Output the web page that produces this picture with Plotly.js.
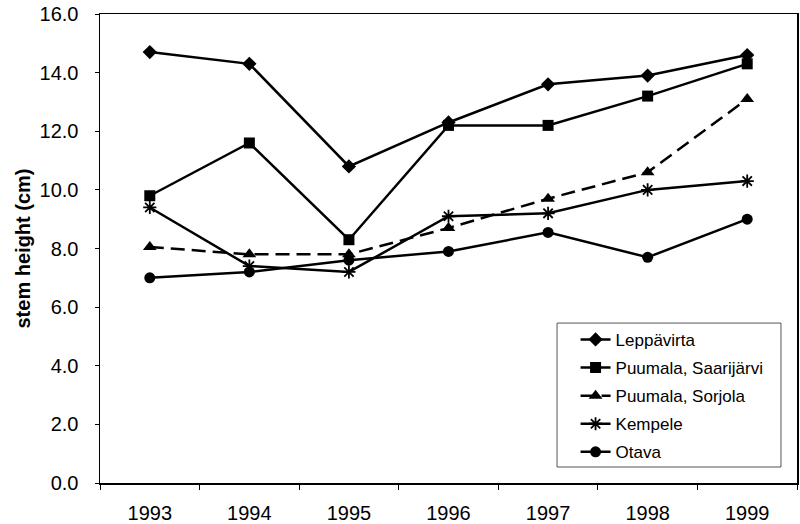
<!DOCTYPE html>
<html>
<head>
<meta charset="utf-8">
<script src="https://cdn.plot.ly/plotly-3.0.1.min.js"></script>
<style>html,body{margin:0;padding:0;background:#fff;}#chart{width:800px;height:524px;}</style>
</head>
<body>
<div id="chart"></div>
<script>
var years = ["1993", "1994", "1995", "1996", "1997", "1998", "1999"];
var leppavirta = [14.7, 14.3, 10.8, 12.3, 13.6, 13.9, 14.6];
var saarijarvi = [9.8, 11.6, 8.3, 12.2, 12.2, 13.2, 14.3];
var sorjola = [8.05, 7.8, 7.8, 8.7, 9.7, 10.6, 13.1];
var kempele = [9.4, 7.4, 7.2, 9.1, 9.2, 10.0, 10.3];
var otava = [7.0, 7.2, 7.6, 7.9, 8.55, 7.7, 9.0];
var seriesNames = ["Leppävirta", "Puumala, Saarijärvi", "Puumala, Sorjola", "Kempele", "Otava"];

function tr(name, y, symbol, size, dash) {
  return {
    x: years, y: y, name: name, type: "scatter", mode: "lines+markers",
    legendgroup: name,
    line: {color: "#000", width: 2.5, dash: dash || "solid"},
    marker: {symbol: symbol, size: size, color: "#000", line: {color: "#000", width: symbol.indexOf("open") >= 0 ? 1.8 : 0}}
  };
}
var data = [
  tr(seriesNames[0], leppavirta, "diamond", 11),
  tr(seriesNames[1], saarijarvi, "square", 11),
  tr(seriesNames[2], sorjola, "triangle-up", 12, "14px,7px"),
  tr(seriesNames[3], kempele, "asterisk-open", 11),
  tr(seriesNames[4], otava, "circle", 11)
];
var layout = {
  width: 800, height: 524,
  margin: {l: 100, r: 3, t: 14, b: 41},
  paper_bgcolor: "#fff", plot_bgcolor: "#fff",
  font: {family: "Liberation Sans, Arial, sans-serif", color: "#000", size: 20},
  showlegend: true,
  xaxis: {
    type: "category", range: [-0.5, 6.5],
    showline: true, linecolor: "#000", linewidth: 1.5, mirror: true,
    ticks: "outside", tickson: "boundaries", ticklen: 5, tickcolor: "#000",
    showgrid: false, zeroline: false,
    tickfont: {size: 20}, ticklabelstandoff: 11
  },
  yaxis: {
    range: [0, 16], dtick: 2, tick0: 0, tickformat: ".1f",
    showline: true, linecolor: "#000", linewidth: 1.5, mirror: true,
    ticks: "outside", ticklen: 4, tickcolor: "#000",
    showgrid: false, zeroline: false,
    tickfont: {size: 20}, ticklabelstandoff: 12,
    title: {text: "<b>stem height (cm)</b>", font: {size: 20}, standoff: 3}
  },
  shapes: [{
    type: "rect", xref: "paper", yref: "paper",
    x0: 0.6557, x1: 0.977, y0: 0.0341, y1: 0.341,
    line: {color: "#555", width: 1}, fillcolor: "rgba(0,0,0,0)"
  }],
  legend: {
    x: 0.6823, y: 0.3435, xanchor: "left", yanchor: "top",
    traceorder: "grouped",
    bgcolor: "rgba(0,0,0,0)", borderwidth: 0,
    font: {size: 17}, tracegroupgap: 3, itemwidth: 30
  }
};
Plotly.newPlot("chart", data, layout, {displayModeBar: false, staticPlot: true});
</script>
</body>
</html>
